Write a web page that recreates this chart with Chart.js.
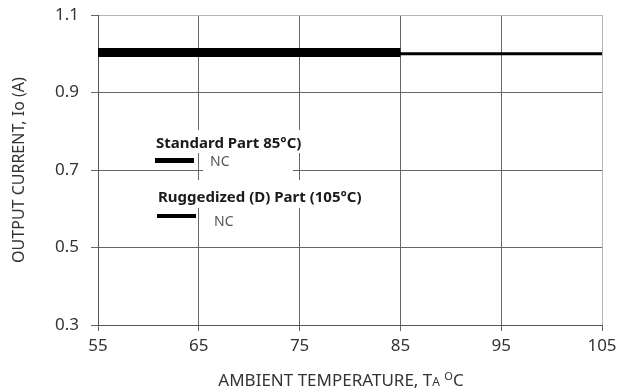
<!DOCTYPE html>
<html>
<head>
<meta charset="utf-8">
<script src="https://cdn.jsdelivr.net/npm/chart.js@4"></script>
<style>
  html, body { margin: 0; padding: 0; background: #fff; }
  #wrap { width: 632px; height: 392px; }
</style>
</head>
<body>
<div id="wrap"><canvas id="derating" width="632" height="392"></canvas></div>
<script>
// data
const xTicks = [55, 65, 75, 85, 95, 105];
const yTicks = [0.3, 0.5, 0.7, 0.9, 1.1];
const standardTemps = [55, 85];
const standardCurrent = [1.003, 1.003];
const ruggedTemps = [55, 105];
const ruggedCurrent = [1.0, 1.0];

const FONT = "'Noto Sans', 'DejaVu Sans', sans-serif";

// the little legend + NC notes sitting inside the plot, with white boxes behind
const notesPlugin = {
  id: 'notes',
  beforeDatasetsDraw(chart) {
    const ctx = chart.ctx;
    ctx.save();
    ctx.fillStyle = '#fff';
    ctx.fillRect(150, 130, 158, 23);
    ctx.fillRect(203, 153, 90, 27);
    ctx.fillRect(150, 180, 216, 28);

    ctx.fillStyle = '#000';
    ctx.fillRect(155, 158, 39, 5);
    ctx.fillRect(157, 214, 39, 4);

    ctx.textBaseline = 'alphabetic';
    ctx.fillStyle = '#1a1a1a';
    ctx.font = 'bold 15px ' + FONT;
    ctx.fillText('Standard Part 85°C)', 156, 148);
    ctx.fillText('Ruggedized (D) Part (105°C)', 158, 202);

    ctx.fillStyle = '#555';
    ctx.font = '14px ' + FONT;
    ctx.fillText('NC', 210, 166);
    ctx.fillText('NC', 214, 226);
    ctx.restore();
  },
  afterDraw(chart) {
    // x axis title with subscript A and superscript o
    const ctx = chart.ctx;
    const parts = [
      { t: 'AMBIENT TEMPERATURE, T', size: 17, dy: 0 },
      { t: 'A', size: 12, dy: 0 },
      { t: ' ', size: 17, dy: 0 },
      { t: 'O', size: 11, dy: -6 },
      { t: 'C', size: 17, dy: 0 }
    ];
    ctx.save();
    ctx.fillStyle = '#333';
    ctx.textBaseline = 'alphabetic';
    let total = 0;
    parts.forEach(p => { ctx.font = p.size + 'px ' + FONT; p.w = ctx.measureText(p.t).width; total += p.w; });
    let x = 341 - total / 2;
    parts.forEach(p => {
      ctx.font = p.size + 'px ' + FONT;
      ctx.fillText(p.t, x, 386 + p.dy);
      x += p.w;
    });
    ctx.restore();
  }
};

new Chart('derating', {
  type: 'scatter',
  data: {
    datasets: [{
      label: 'Ruggedized (D) Part (105°C)',
      data: ruggedTemps.map((t, i) => ({ x: t, y: ruggedCurrent[i] })),
      showLine: true,
      borderColor: '#000',
      borderWidth: 3,
      pointRadius: 0
    }, {
      label: 'Standard Part 85°C)',
      data: standardTemps.map((t, i) => ({ x: t, y: standardCurrent[i] })),
      showLine: true,
      borderColor: '#000',
      borderWidth: 9,
      pointRadius: 0
    }]
  },
  options: {
    responsive: false,
    animation: false,
    layout: { padding: { left: 0, right: 30, top: 15, bottom: 0 } },
    plugins: { legend: { display: false }, tooltip: { enabled: false } },
    scales: {
      x: {
        type: 'linear',
        min: 55, max: 105,
        afterBuildTicks: s => { s.ticks = xTicks.map(v => ({ value: v })); },
        afterFit: s => { s.height = 67; },
        grid: {
          color: ctx => ctx.tick && ctx.tick.value === 105 ? '#b5b5b5' : '#666',
          tickColor: '#666',
          tickLength: 6
        },
        border: { color: '#555', width: 1 },
        ticks: { color: '#333', padding: 5, font: { family: FONT, size: 17 } }
      },
      y: {
        min: 0.3, max: 1.1,
        afterBuildTicks: s => { s.ticks = yTicks.map(v => ({ value: v })); },
        afterFit: s => { s.width = 98; s.paddingTop = 0; s.paddingBottom = 0; },
        grid: {
          color: ctx => ctx.tick && ctx.tick.value === 1.1 ? '#b5b5b5' : '#666',
          tickColor: '#666',
          tickLength: 7
        },
        border: { color: '#555', width: 1 },
        ticks: {
          color: '#333', padding: 12, font: { family: FONT, size: 17 },
          callback: v => v.toFixed(1)
        },
        title: {
          display: true,
          text: 'OUTPUT CURRENT, Io (A)',
          color: '#333',
          font: { family: FONT, size: 16 },
          padding: { top: 10, bottom: 0 }
        }
      }
    }
  },
  plugins: [notesPlugin]
});
</script>
</body>
</html>
